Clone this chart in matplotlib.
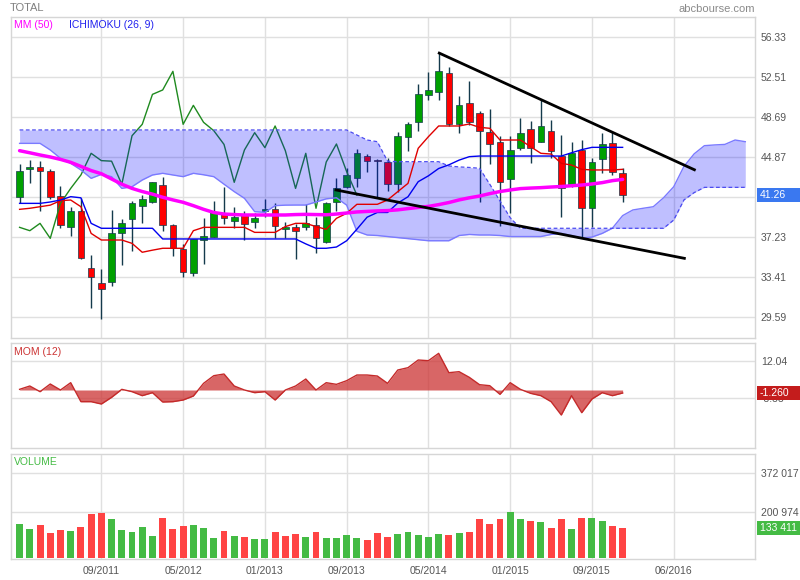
import matplotlib
matplotlib.use("Agg")
import matplotlib.pyplot as plt
import matplotlib.transforms as mtransforms
from matplotlib.patches import Rectangle
import numpy as np

plt.rcParams['font.family'] = ['Liberation Sans', 'DejaVu Sans']

# ---------------- data (monthly, 01/2011 .. 12/2015) ----------------
opens = [41.05, 43.78, 43.91, 43.53, 41.14, 38.25, 39.74, 34.27, 32.83, 32.93,
         37.61, 38.95, 40.25, 40.63, 42.19, 38.40, 36.11, 33.79, 36.97, 37.29,
         39.52, 38.82, 39.33, 38.72, 39.77, 39.90, 38.00, 38.18, 38.18, 38.40,
         36.81, 40.63, 42.06, 42.86, 45.00, 44.60, 44.45, 42.29, 46.77, 48.21,
         50.79, 51.07, 52.89, 48.02, 50.02, 49.07, 47.25, 46.30, 42.80, 45.79,
         47.54, 46.36, 47.38, 44.99, 42.16, 45.57, 40.00, 44.74, 46.20, 43.34]
highs = [44.23, 44.61, 44.52, 43.75, 42.13, 40.15, 40.95, 35.54, 34.20, 39.84,
         38.95, 40.70, 41.27, 42.54, 43.02, 38.50, 36.59, 37.04, 39.04, 40.70,
         42.06, 40.15, 39.74, 39.52, 40.89, 40.47, 38.72, 38.50, 40.41, 39.20,
         40.63, 42.86, 43.82, 45.66, 45.18, 44.70, 44.77, 47.25, 48.27, 51.84,
         53.05, 54.80, 53.46, 50.72, 52.12, 49.29, 49.45, 46.93, 46.90, 48.66,
         48.34, 50.30, 48.43, 46.99, 46.36, 46.52, 44.77, 47.22, 47.32, 43.82]
lows = [40.50, 42.38, 39.77, 40.85, 38.15, 37.35, 35.13, 30.45, 29.43, 32.58,
        34.62, 35.95, 38.63, 40.54, 37.80, 35.45, 33.47, 33.53, 34.65, 37.29,
        38.47, 38.09, 36.97, 38.09, 39.20, 37.13, 37.13, 35.19, 37.93, 35.76,
        36.70, 39.77, 41.90, 42.06, 43.50, 41.05, 41.68, 41.60, 45.50, 47.41,
        50.34, 50.34, 47.86, 47.22, 47.95, 40.63, 44.20, 38.34, 39.52, 45.57,
        44.29, 46.36, 44.77, 39.20, 42.00, 37.13, 38.25, 43.34, 43.18, 40.57]
closes = [43.56, 43.91, 43.53, 41.11, 38.37, 39.74, 35.25, 33.41, 32.26, 37.61,
          38.56, 40.47, 40.85, 42.48, 38.37, 36.20, 33.95, 37.04, 37.35, 39.68,
          39.04, 39.14, 38.47, 39.04, 39.90, 38.31, 38.18, 37.86, 38.56, 37.13,
          40.47, 41.90, 43.18, 45.25, 44.55, 44.50, 42.29, 46.93, 48.02, 50.88,
          51.30, 53.08, 48.02, 49.83, 48.21, 47.41, 46.10, 42.48, 45.57, 47.22,
          45.79, 47.86, 45.50, 41.90, 45.25, 40.00, 44.42, 46.14, 43.50, 41.26]

ma50 = [45.50, 45.30, 45.09, 44.90, 44.67, 44.39, 44.00, 43.60, 43.30, 42.80,
        42.30, 41.90, 41.60, 41.35, 41.05, 40.80, 40.57, 40.25, 39.90, 39.60,
        39.45, 39.40, 39.36, 39.36, 39.36, 39.36, 39.36, 39.40, 39.42, 39.40,
        39.38, 39.45, 39.55, 39.65, 39.70, 39.75, 39.78, 39.85, 39.97, 40.08,
        40.18, 40.35, 40.55, 40.80, 41.00, 41.17, 41.40, 41.60, 41.75, 41.88,
        41.93, 41.97, 42.03, 42.08, 42.15, 42.22, 42.32, 42.45, 42.64, 42.76]

tenkan = [39.90, 40.00, 40.15, 40.30, 40.73, 40.79, 40.15, 37.60, 36.97, 36.97,
          36.97, 36.65, 35.80, 36.00, 36.18, 36.18, 36.18, 37.86, 38.18, 38.18,
          38.18, 38.18, 38.18, 37.70, 37.70, 37.70, 38.25, 38.56, 38.56, 38.25,
          37.99, 39.04, 39.52, 40.38, 40.38, 40.38, 40.79, 41.59, 42.38, 45.73,
          46.84, 47.86, 47.86, 47.86, 48.05, 47.73, 47.64, 46.52, 46.52, 46.52,
          45.88, 45.25, 45.18, 44.29, 44.13, 43.72, 43.66, 43.66, 43.66, 43.72]

kijun = [40.47, 40.47, 40.47, 40.60, 40.79, 41.11, 41.00, 38.56, 38.09, 38.09,
         38.09, 38.09, 38.09, 38.09, 37.07, 37.07, 37.07, 37.07, 37.07, 37.07,
         37.07, 37.07, 37.07, 37.07, 37.07, 37.07, 37.07, 37.07, 36.60, 36.18,
         36.18, 36.30, 36.90, 38.00, 39.15, 39.60, 39.60, 40.50, 41.10, 42.54,
         43.10, 43.80, 44.15, 44.60, 44.93, 44.99, 44.99, 44.99, 44.99, 44.99,
         44.99, 44.99, 44.99, 44.99, 45.30, 45.60, 45.82, 45.82, 45.82, 45.82]

senkou_a = [46.20, 46.20, 46.20, 45.57, 44.77, 44.29, 43.66, 42.86, 43.24, 43.02,
            41.90, 42.06, 42.70, 43.18, 43.34, 43.18, 43.02, 43.34, 43.20, 43.02,
            42.30, 41.59, 40.95, 39.68, 39.61, 40.25, 40.30, 40.31, 40.31, 40.60,
            40.90, 41.00, 40.30, 37.80, 37.45, 37.40, 37.30, 37.20, 37.10, 37.00,
            36.90, 36.90, 36.90, 37.40, 37.50, 37.45, 37.45, 37.40, 37.30, 37.30,
            37.30, 37.30, 37.50, 37.60, 37.40, 37.15, 37.25, 37.60, 38.10, 39.30,
            39.84, 40.00, 40.15, 41.00, 42.06, 44.00, 45.20, 45.98, 46.05, 46.10,
            46.52, 46.36]
senkou_b = [47.48, 47.48, 47.48, 47.48, 47.48, 47.48, 47.48, 47.48, 47.48, 47.48,
            47.48, 47.48, 47.48, 47.48, 47.48, 47.48, 47.48, 47.48, 47.48, 47.48,
            47.48, 47.48, 47.48, 47.48, 47.48, 47.48, 47.48, 47.48, 47.48, 47.48,
            47.48, 47.48, 47.48, 47.00, 46.52, 46.36, 44.50, 44.45, 44.45, 44.45,
            44.45, 44.45, 44.04, 43.95, 43.90, 43.82, 42.30, 40.70, 39.10, 38.09,
            38.09, 38.09, 38.09, 38.09, 38.09, 38.09, 38.09, 38.09, 38.09, 38.09,
            38.09, 38.09, 38.09, 38.09, 38.88, 40.80, 41.50, 42.00, 42.00, 42.00,
            42.00, 42.00]
chikou_shift = 26

momentum = [0.28, 1.68, -0.70, 2.52, 0.00, 3.08, -4.90, -4.90, -5.88, -3.08,
            0.28, -0.70, -2.38, -1.12, -5.04, -4.90, -4.20, -2.52, 2.80, 6.02,
            6.72, 1.68, 0.00, -1.12, -0.70, -4.20, 0.00, 1.68, 4.62, 0.00,
            3.08, 2.38, 3.92, 6.30, 6.30, 5.88, 2.80, 8.40, 9.38, 12.60,
            12.32, 15.40, 7.28, 7.70, 5.32, 2.24, 1.82, -1.82, 3.08, 0.28,
            -1.40, -2.38, -4.90, -10.50, -2.38, -9.52, -3.78, -1.12, -2.38, -1.26]

volume = [148000, 129600, 146700, 108200, 125300, 119600, 138200, 193700, 198000, 169500,
          125300, 112500, 135300, 95400, 175200, 128100, 142400, 146700, 132500, 86800,
          119600, 98300, 91200, 82600, 82600, 116700, 96800, 105300, 92500, 112500,
          88200, 88200, 101000, 88200, 78300, 108200, 93900, 106900, 112500, 99600,
          93900, 103900, 101000, 111000, 116700, 172300, 150900, 169500, 203700, 172300,
          163800, 159500, 132500, 172300, 129600, 176600, 176600, 160900, 141100, 133411]

# trend lines (month index, price)
trend_upper_x = [41.06, 66.02]
trend_upper_y = [54.82, 43.68]
trend_lower_x = [30.96, 65.04]
trend_lower_y = [41.75, 35.22]

price_ticks = [56.33, 52.51, 48.69, 44.87, 41.05, 37.23, 33.41, 29.59]
price_tick_labels = ["56.33", "52.51", "48.69", "44.87", "", "37.23", "33.41", "29.59"]
mom_ticks = [12.04, -3.38]
vol_ticks = [200974, 372017]
vol_tick_labels = ["200 974", "372 017"]
x_tick_pos = [8, 16, 24, 32, 40, 48, 56, 64]
x_tick_labels = ["09/2011", "05/2012", "01/2013", "09/2013", "05/2014",
                 "01/2015", "09/2015", "06/2016"]
last_price = 41.26
last_mom = -1.26
last_vol = 133411

# ---------------- figure ----------------
W, H = 800, 580
fig = plt.figure(figsize=(W / 100, H / 100), dpi=100)
fig.patch.set_facecolor('white')

def box(l, t, r, b):
    return [l / W, 1 - b / H, (r - l) / W, (b - t) / H]

ax = fig.add_axes(box(10.7, 17.3, 755.3, 337.7))
axm = fig.add_axes(box(10.7, 342.7, 755.3, 447.7), sharex=ax)
axv = fig.add_axes(box(10.7, 453.7, 755.3, 559.3), sharex=ax)

GRID = '#e0e0e0'
SPINE = '#d6d6d6'
TXT = '#555555'

for a in (ax, axm, axv):
    for s in a.spines.values():
        s.set_color(SPINE)
        s.set_linewidth(1.0)
    a.set_facecolor('white')
    a.grid(True, color=GRID, linewidth=1.0, zorder=0)
    a.set_axisbelow(True)
    a.yaxis.tick_right()
    a.tick_params(axis='both', length=0, labelsize=7.5, labelcolor=TXT, pad=4)
    a.set_xticks(x_tick_pos)

ax.set_xlim(-0.87, 71.98)
ax.tick_params(axis='x', labelbottom=False)
axm.tick_params(axis='x', labelbottom=False)
axv.set_xticklabels(x_tick_labels)
axv.tick_params(axis='x', pad=5)

n = len(closes)
x = np.arange(n)
o = np.array(opens); h = np.array(highs); l = np.array(lows); c = np.array(closes)

# ---- main price panel ----
ax.set_ylim(27.64, 58.24)
ax.set_yticks(price_ticks)
ax.set_yticklabels(price_tick_labels)

WICK = '#143a4c'
GREEN = '#00a000'
RED = '#ff0000'
up = c >= o
ax.vlines(x, l, h, color=WICK, linewidth=1.0, zorder=2)
body_bottom = np.minimum(o, c)
body_h = np.maximum(np.abs(c - o), 0.12)
ax.bar(x, body_h, bottom=body_bottom, width=0.65,
       color=np.where(up, GREEN, RED), edgecolor=WICK, linewidth=0.5, zorder=2.2)

# chikou (close shifted back)
chikou = closes[chikou_shift:]
ax.plot(np.arange(len(chikou)), chikou, color='#1f8a1f', linewidth=1.0, zorder=2.5)

# cloud
xc = np.arange(len(senkou_a))
ax.fill_between(xc, senkou_a, senkou_b, color='#0000ff', alpha=0.25,
                linewidth=0, zorder=3)
ax.plot(xc, senkou_a, color='#7a7aff', linewidth=1.0, zorder=3.1)
ax.plot(xc, senkou_b, color='#4a4af0', linewidth=0.9, linestyle=(0, (3, 2)), zorder=3.1)

ax.plot(x, tenkan, color='#e00000', linewidth=1.0, zorder=4)
ax.plot(x, kijun, color='#0000f0', linewidth=1.0, zorder=4)
ax.plot(x, ma50, color='#ff00ff', linewidth=2.5, zorder=4.2, solid_capstyle='round')

ax.plot(trend_upper_x, trend_upper_y, color='black', linewidth=2.0, zorder=5)
ax.plot(trend_lower_x, trend_lower_y, color='black', linewidth=2.0, zorder=5)

# ---- momentum panel ----
axm.set_ylim(-24.23, 19.87)
axm.set_yticks(mom_ticks)
axm.set_yticklabels([f"{v:.2f}" for v in mom_ticks])
axm.fill_between(x, momentum, 0, color='#cc3333', alpha=0.75, linewidth=0, zorder=2)
axm.plot(x, momentum, color='#c42a2a', linewidth=1.0, zorder=3)

# ---- volume panel ----
axv.set_ylim(-4276, 455800)
axv.set_yticks(vol_ticks)
axv.set_yticklabels(vol_tick_labels)
vol_up = np.concatenate([[True], c[1:] >= c[:-1]])
axv.bar(x, volume, width=0.68, color=np.where(vol_up, '#44bb44', '#ff4444'),
        linewidth=0, zorder=2)

# ---- value boxes on right ----
def value_box(axis, value, text, color, half_h_px=7):
    tr = mtransforms.blended_transform_factory(fig.transFigure, axis.transData)
    y0, y1 = axis.get_ylim()
    ax_h_px = axis.get_position().height * H
    per_px = (y1 - y0) / ax_h_px
    rect = Rectangle((757 / W, value - half_h_px * per_px), 43 / W, 2 * half_h_px * per_px,
                     transform=tr, facecolor=color, edgecolor='none', clip_on=False, zorder=10)
    fig.add_artist(rect)
    fig.text(760 / W, value, text, transform=tr, color='white', fontsize=7.5,
             va='center', ha='left', zorder=11)

value_box(ax, last_price, f"{last_price:.2f}", '#3a78f0')
value_box(axm, last_mom, f"{last_mom:.3f}", '#c41c1c')
value_box(axv, last_vol, "133 411", '#44bb44')

# ---- labels ----
def ftext(px, py, s, **kw):
    fig.text(px / W, 1 - py / H, s, va='center', **kw)

ftext(10, 8, "TOTAL", color='#808080', fontsize=8)
ftext(755, 9, "abcbourse.com", color='#8a8a8a', fontsize=8, ha='right')
ftext(14, 25, "MM (50)", color='#ff00ff', fontsize=7.5)
ftext(69, 25, "ICHIMOKU (26, 9)", color='#2020ee', fontsize=7.5)
ftext(14, 352, "MOM (12)", color='#cc3333', fontsize=7.5)
ftext(14, 462, "VOLUME", color='#44bb44', fontsize=7.5)

fig.savefig("out.png", dpi=100, facecolor='white')
